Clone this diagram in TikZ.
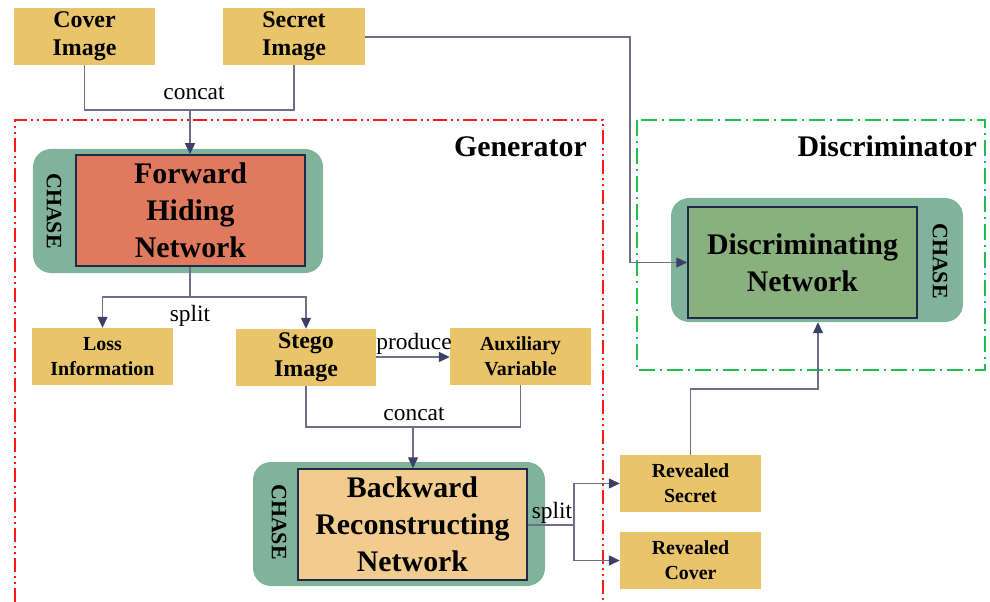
\documentclass[tikz,border=0pt]{standalone}
\usepackage{fontspec}
\setmainfont{Liberation Serif}
\usetikzlibrary{arrows.meta}
\definecolor{boxyellow}{RGB}{233,196,106}
\definecolor{fhnred}{RGB}{224,122,95}
\definecolor{dngreen}{RGB}{138,176,125}
\definecolor{brnpeach}{RGB}{242,204,143}
\definecolor{chasegreen}{RGB}{129,178,154}
\definecolor{edgenavy}{RGB}{31,42,74}
\definecolor{linegray}{RGB}{108,110,140}
\definecolor{tipnavy}{RGB}{61,64,102}
\definecolor{genred}{RGB}{250,25,25}
\definecolor{discgreen}{RGB}{30,190,80}
\begin{document}
\begin{tikzpicture}[x=1bp,y=-1bp,
  databox/.style={fill=boxyellow, inner sep=0pt, align=center,
    minimum width=141bp, minimum height=57bp,
    font=\bfseries\fontsize{24}{28}\selectfont},
  smallbox/.style={databox, font=\bfseries\fontsize{20}{25}\selectfont},
  chaseout/.style={fill=chasegreen, rounded corners=18bp, inner sep=0pt},
  netbox/.style={draw=edgenavy, line width=1.5bp, inner sep=0pt, align=center,
    font=\bfseries\fontsize{30}{37}\selectfont},
  chaselbl/.style={rotate=-90, inner sep=0pt, font=\bfseries\fontsize{22}{26}\selectfont},
  conn/.style={draw=linegray, line width=1.3bp},
  arr/.style={conn, -{Triangle[length=11bp,width=10bp,color=tipnavy]}},
  lbl/.style={inner sep=0pt, anchor=base, font=\fontsize{23.5}{28}\selectfont},
  title/.style={inner sep=0pt, anchor=base east, font=\bfseries\fontsize{30}{36}\selectfont},
  genbox/.style={draw=genred, line width=1.8bp, dash pattern=on 14bp off 4bp on 2bp off 4bp on 2bp off 4bp},
  discbox/.style={draw=discgreen, line width=2bp, dash pattern=on 16bp off 5bp on 2bp off 5bp}
]
\useasboundingbox (0,0) rectangle (990,602);

% group frames
\draw[genbox] (15,602) -- (15,120) -- (603,120) -- (603,602);
\draw[discbox] (637,120) rectangle (985,370);
\node[title] (gen) at (587,157) {Generator};
\node[title] (disc) at (977,157) {Discriminator};

% inputs
\node[databox] (cover) at (84.5,36.5) {Cover\\Image};
\node[databox, minimum width=142bp] (secret) at (294,36.5) {Secret\\Image};

% forward hiding network
\node[chaseout, minimum width=290bp, minimum height=124bp] (fhnout) at (178,211) {};
\node[netbox, fill=fhnred, minimum width=229bp, minimum height=111bp] (fhn) at (190.5,210.5) {Forward\\Hiding\\Network};
\node[chaselbl] (chase1) at (54,211) {CHASE};

% split outputs
\node[smallbox] (loss) at (102.5,356.5) {Loss\\Information};
\node[databox, minimum width=140bp] (stego) at (306,357.5) {Stego\\Image};
\node[smallbox] (aux) at (520.5,356.5) {Auxiliary\\Variable};

% backward reconstructing network
\node[chaseout, minimum width=292bp, minimum height=124bp] (brnout) at (399,524) {};
\node[netbox, fill=brnpeach, minimum width=229bp, minimum height=111bp] (brn) at (412.5,524.5) {Backward\\Reconstructing\\Network};
\node[chaselbl] (chase2) at (279,522) {CHASE};

% revealed
\node[smallbox] (rsec) at (690.5,483.5) {Revealed\\Secret};
\node[smallbox] (rcov) at (690.5,560.5) {Revealed\\Cover};

% discriminating network
\node[chaseout, minimum width=292bp, minimum height=124bp] (dnout) at (817,260) {};
\node[netbox, fill=dngreen, minimum width=229bp, minimum height=111bp] (dn) at (802.5,262.5) {Discriminating\\Network};
\node[chaselbl] (chase3) at (940,261) {CHASE};

% junction coordinates
\coordinate (j1) at (190,110);
\coordinate (j2) at (190,297);
\coordinate (j3) at (413,427);
\coordinate (j4) at (574,525);
\coordinate (j5) at (630,37);
\coordinate (j6) at (818,389);

% concat 1
\draw[conn] (cover.south) |- (j1) -| (secret.south);
\draw[arr] (j1) -- (j1 |- fhn.north);
\node[lbl] (c1) at (194,100) {concat};

% split 1
\draw[conn] (j2 |- fhn.south) -- (j2);
\draw[arr] (j2) -| (loss.north);
\draw[arr] (j2) -| (stego.north);
\node[lbl] (s1) at (190,321) {split};

% produce
\draw[arr] (stego.east |- 0,357) -- (aux.west |- 0,357);
\node[lbl] (p1) at (414,349) {produce};

% concat 2
\draw[conn] (stego.south) |- (j3) -| (aux.south);
\draw[arr] (j3) -- (j3 |- brn.north);
\node[lbl] (c2) at (414,420) {concat};

% split 2
\draw[conn] (brn.east |- j4) -- (j4);
\draw[arr] (j4) |- (rsec.west);
\draw[arr] (j4) |- (rcov.west);
\node[lbl] (s2) at (552,518) {split};

% secret to discriminator
\draw[arr] (secret.east |- j5) -- (j5) |- (dn.west);

% revealed secret to discriminator
\draw[arr] (rsec.north) |- (j6) -- (j6 |- dnout.south);
\end{tikzpicture}
\end{document}
